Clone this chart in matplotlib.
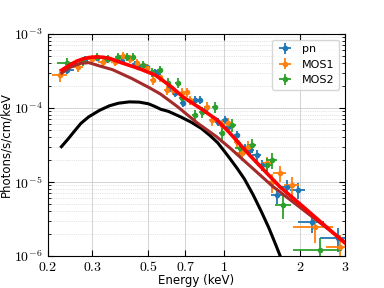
import numpy as np
import matplotlib
matplotlib.use('Agg')
import matplotlib.pyplot as plt
from matplotlib.ticker import FixedLocator, FixedFormatter, NullLocator, LogLocator

plt.rcParams['mathtext.fontset'] = 'cm'

# pn
pn_e = [0.238, 0.281, 0.313, 0.343, 0.393, 0.443, 0.454, 0.493, 0.531, 0.546, 0.608, 0.637,
        0.685, 0.764, 0.800, 0.838, 0.942, 1.005, 1.033, 1.122, 1.205, 1.262, 1.345, 1.408,
        1.616, 1.771, 1.955, 2.22, 2.82]
pn_f = [3.26e-4, 4.59e-4, 4.74e-4, 4.59e-4, 4.31e-4, 3.93e-4, 3.58e-4, 3.58e-4, 3.06e-4, 2.79e-4,
        1.86e-4, 1.60e-4, 1.17e-4, 1.28e-4, 1.28e-4, 9.4e-5, 6.5e-5, 6.9e-5, 5.5e-5, 4.3e-5,
        2.88e-5, 2.7e-5, 2.32e-5, 1.70e-5, 6.7e-6, 8.6e-6, 7.8e-6, 2.9e-6, 1.75e-6]
pn_xerr = [0.07, 0.04, 0.04, 0.03, 0.03, 0.03, 0.03, 0.03, 0.03, 0.03, 0.03, 0.03,
           0.03, 0.03, 0.03, 0.03, 0.03, 0.03, 0.03, 0.03, 0.04, 0.04, 0.04, 0.04,
           0.05, 0.06, 0.07, 0.12, 0.15]
pn_yerr = [0.12, 0.10, 0.10, 0.10, 0.10, 0.10, 0.10, 0.10, 0.10, 0.10, 0.12, 0.12,
           0.12, 0.12, 0.12, 0.12, 0.13, 0.13, 0.13, 0.14, 0.15, 0.15, 0.16, 0.18,
           0.25, 0.22, 0.24, 0.30, 0.35]

# MOS1
m1_e = [0.223, 0.263, 0.299, 0.330, 0.368, 0.396, 0.423, 0.451, 0.493, 0.521, 0.556, 0.592,
        0.625, 0.679, 0.711, 0.730, 0.853, 0.893, 0.977, 1.033, 1.122, 1.172, 1.239, 1.475,
        1.543, 1.661, 1.851, 2.28, 2.87]
m1_f = [2.79e-4, 3.58e-4, 4.59e-4, 4.18e-4, 4.18e-4, 5.04e-4, 4.59e-4, 4.06e-4, 3.47e-4, 2.39e-4,
        2.62e-4, 1.75e-4, 1.75e-4, 1.60e-4, 1.64e-4, 1.28e-4, 1.03e-4, 6.9e-5, 5.9e-5, 6.3e-5,
        3.5e-5, 2.46e-5, 2.97e-5, 1.81e-5, 1.0e-5, 1.32e-5, 9.1e-6, 2.5e-6, 1.32e-6]
m1_xerr = [0.07, 0.05, 0.04, 0.04, 0.03, 0.03, 0.03, 0.03, 0.03, 0.03, 0.03, 0.03,
           0.03, 0.03, 0.03, 0.03, 0.03, 0.03, 0.03, 0.03, 0.03, 0.04, 0.04, 0.05,
           0.05, 0.06, 0.07, 0.18, 0.12]
m1_yerr = [0.20, 0.15, 0.13, 0.13, 0.12, 0.12, 0.12, 0.12, 0.13, 0.15, 0.15, 0.15,
           0.15, 0.15, 0.15, 0.15, 0.16, 0.17, 0.17, 0.17, 0.20, 0.22, 0.20, 0.22,
           0.30, 0.25, 0.28, 0.40, 0.45]

# MOS2
m2_e = [0.238, 0.275, 0.313, 0.346, 0.379, 0.411, 0.435, 0.475, 0.516, 0.556, 0.597, 0.655,
        0.679, 0.764, 0.815, 0.917, 0.977, 1.072, 1.152, 1.285, 1.475, 1.543, 1.708, 2.39]
m2_f = [4.06e-4, 4.31e-4, 4.89e-4, 4.59e-4, 4.89e-4, 4.89e-4, 4.89e-4, 3.81e-4, 3.06e-4, 3.26e-4,
        2.18e-4, 2.18e-4, 1.37e-4, 8.0e-5, 8.8e-5, 1.03e-4, 4.6e-5, 5.9e-5, 2.88e-5, 3.16e-5,
        1.70e-5, 1.98e-5, 4.9e-6, 1.21e-6]
m2_xerr = [0.09, 0.05, 0.04, 0.04, 0.03, 0.03, 0.03, 0.03, 0.03, 0.03, 0.03, 0.03,
           0.03, 0.03, 0.03, 0.03, 0.03, 0.04, 0.04, 0.04, 0.05, 0.05, 0.07, 0.22]
m2_yerr = [0.15, 0.13, 0.12, 0.12, 0.12, 0.12, 0.12, 0.13, 0.14, 0.14, 0.15, 0.15,
           0.16, 0.18, 0.18, 0.18, 0.20, 0.20, 0.22, 0.22, 0.25, 0.25, 0.35, 0.45]

# model curves
tot_e = [0.227, 0.245, 0.26, 0.275, 0.29, 0.31, 0.33, 0.35, 0.39, 0.46, 0.53, 0.557, 0.62, 0.685,
         0.8, 0.93, 1.05, 1.26, 1.42, 1.66, 2.0, 3.0]
tot_f = [3.26e-4, 3.85e-4, 4.3e-4, 4.6e-4, 4.8e-4, 4.9e-4, 4.85e-4, 4.7e-4, 4.1e-4, 3.4e-4, 2.8e-4,
         2.5e-4, 1.9e-4, 1.41e-4, 1.0e-4, 7.0e-5, 4.6e-5, 2.3e-5, 1.5e-5, 8.6e-6, 5.0e-6, 1.5e-6]
pl_e = [0.227, 0.245, 0.268, 0.29, 0.32, 0.36, 0.43, 0.507, 0.557, 0.58, 0.65, 0.78, 0.93, 1.05,
        1.55, 2.0, 3.0]
pl_f = [2.97e-4, 3.55e-4, 4.0e-4, 4.1e-4, 3.7e-4, 3.3e-4, 2.5e-4, 1.86e-4, 1.55e-4, 1.4e-4, 1.05e-4,
        6.3e-5, 4.1e-5, 2.9e-5, 8.8e-6, 4.5e-6, 1.55e-6]
bb_e = [0.226, 0.24, 0.255, 0.27, 0.29, 0.32, 0.35, 0.38, 0.42, 0.46, 0.5, 0.53, 0.56, 0.6, 0.67,
        0.74, 0.81, 0.88, 0.94, 1.0, 1.06, 1.12, 1.2, 1.3, 1.4, 1.5, 1.6, 1.7]
bb_f = [3.0e-5, 3.8e-5, 4.9e-5, 6.2e-5, 7.6e-5, 9.3e-5, 1.07e-4, 1.16e-4, 1.21e-4, 1.2e-4, 1.14e-4,
        1.05e-4, 9.6e-5, 9.0e-5, 7.6e-5, 6.4e-5, 5.3e-5, 4.2e-5, 3.4e-5, 2.6e-5, 2.0e-5, 1.55e-5,
        1.1e-5, 6.7e-6, 4.0e-6, 2.4e-6, 1.4e-6, 8.3e-7]

fig = plt.figure(figsize=(3.84, 2.88), dpi=100)
ax = fig.add_axes([0.125, 0.111, 0.773, 0.771])

for e, f, xe, ye, c, lab in [(pn_e, pn_f, pn_xerr, pn_yerr, 'C0', 'pn'),
                              (m1_e, m1_f, m1_xerr, m1_yerr, 'C1', 'MOS1'),
                              (m2_e, m2_f, m2_xerr, m2_yerr, 'C2', 'MOS2')]:
    e = np.array(e); f = np.array(f)
    ax.errorbar(e, f, xerr=e * np.array(xe), yerr=f * np.array(ye), fmt='o', ms=3,
                color=c, elinewidth=1.3, capsize=0, label=lab, zorder=3)

ax.plot(bb_e, bb_f, color='black', lw=2.2, zorder=4)
ax.plot(pl_e, pl_f, color='brown', lw=2.2, zorder=4)
ax.plot(tot_e, tot_f, color='red', lw=2.6, zorder=5)

ax.set_xscale('log')
ax.set_yscale('log')
ax.set_xlim(0.2, 3)
ax.set_ylim(1e-6, 1e-3)

xt = [0.2, 0.3, 0.5, 0.7, 1, 2, 3]
ax.xaxis.set_major_locator(FixedLocator(xt))
ax.xaxis.set_major_formatter(FixedFormatter(['$0.2$', '$0.3$', '$0.5$', '$0.7$', '$1$', '$2$', '$3$']))
ax.xaxis.set_minor_locator(NullLocator())
ax.yaxis.set_major_locator(FixedLocator([1e-6, 1e-5, 1e-4, 1e-3]))
ax.yaxis.set_major_formatter(FixedFormatter(['$10^{-6}$', '$10^{-5}$', '$10^{-4}$', '$10^{-3}$']))
ax.yaxis.set_minor_locator(LogLocator(base=10, subs=np.arange(2, 10), numticks=20))

ax.tick_params(which='both', direction='in', top=True, right=True, labelsize=10)
ax.tick_params(axis='x', pad=3)
ax.tick_params(axis='y', pad=4)
ax.tick_params(which='major', length=4)
ax.tick_params(which='minor', length=2)
ax.grid(which='major', color='#cccccc', lw=0.6)
ax.grid(which='minor', axis='y', color='#cccccc', lw=0.5, ls=':')

ax.set_xlabel('Energy (keV)', fontsize=8.5, labelpad=0)
ax.set_ylabel('Photons/s/cm/keV', fontsize=8.5, labelpad=1)

ax.legend(loc='upper right', fontsize=8, handlelength=1.5)

fig.savefig('out.png', dpi=100)
